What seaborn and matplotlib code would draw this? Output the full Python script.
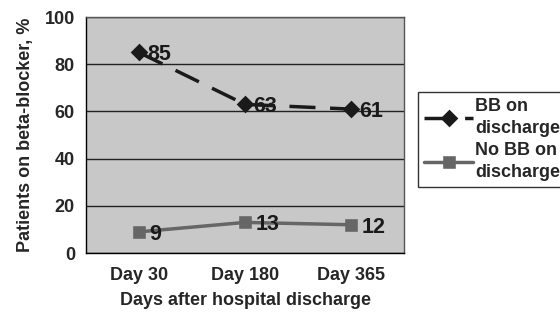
import numpy as np
import pandas as pd
import seaborn as sns
import matplotlib.pyplot as plt

days = ['Day 30', 'Day 180', 'Day 365']
bb_on = [85, 63, 61]
no_bb = [9, 13, 12]
series_names = ['BB on\ndischarge', 'No BB on\ndischarge']

df = pd.DataFrame({
    'day': days * 2,
    'pct': bb_on + no_bb,
    'group': [series_names[0]] * 3 + [series_names[1]] * 3,
})

sns.set_style('white')
plt.rcParams['font.family'] = ['Liberation Sans', 'DejaVu Sans']
plt.rcParams['font.weight'] = 'bold'

fig = plt.figure(figsize=(5.6, 3.14), dpi=100)
ax = fig.add_axes([0.1536, 0.194, 0.568, 0.7516])
ax.set_facecolor('#c8c8c8')

sns.pointplot(data=df, x='day', y='pct', hue='group', order=days,
              hue_order=series_names, palette=['#1a1a1a', '#666666'],
              markers=['D', 's'], linestyles=[(0, (7.5, 4.2)), '-'],
              markersize=7.5, linewidth=2.5, ax=ax)

for i, v in enumerate(bb_on):
    ax.text(i + 0.08, v - 1, str(v), fontsize=15.5, fontweight='bold',
            va='center', ha='left', color='#1a1a1a')
for i, v in enumerate(no_bb):
    ax.text(i + 0.1, v - 1, str(v), fontsize=15.5, fontweight='bold',
            va='center', ha='left', color='#1a1a1a')

ax.set_xlim(-0.5, 2.5)
ax.set_ylim(0, 100)
ax.set_yticks(np.arange(0, 101, 20))
ax.yaxis.grid(True, color='#222222', linewidth=1)
ax.set_axisbelow(True)
ax.set_xticks([0, 1, 2])
ax.set_xticklabels(days, fontsize=13, fontweight='bold')
ax.set_xticks([-0.5, 0.5, 1.5, 2.5], minor=True)
ax.tick_params(axis='x', which='major', length=0, pad=10)
ax.tick_params(axis='x', which='minor', length=5, width=1, color='black', direction='out')
ax.tick_params(axis='y', length=5, width=1, color='black', direction='out',
               labelsize=13, pad=3)
for lab in ax.get_yticklabels():
    lab.set_fontweight('bold')

for s in ['left', 'bottom']:
    ax.spines[s].set_color('black')
    ax.spines[s].set_linewidth(1)
for s in ['top', 'right']:
    ax.spines[s].set_color('#555555')
    ax.spines[s].set_linewidth(1)

ax.set_xlabel('Days after hospital discharge', fontsize=13, fontweight='bold', labelpad=6)
ax.set_ylabel('Patients on beta-blocker, %', fontsize=13, fontweight='bold', labelpad=8)

leg = ax.legend(loc='upper left', bbox_to_anchor=(1.044, 0.682), frameon=True,
                fancybox=False, edgecolor='black', fontsize=13,
                handlelength=2.7, borderpad=0.35, labelspacing=0.3,
                handletextpad=0.1, borderaxespad=0)
leg.get_frame().set_linewidth(1)
for t in leg.get_texts():
    t.set_fontweight('bold')
    t.set_linespacing(1.35)

fig.savefig('out.png', dpi=100)
